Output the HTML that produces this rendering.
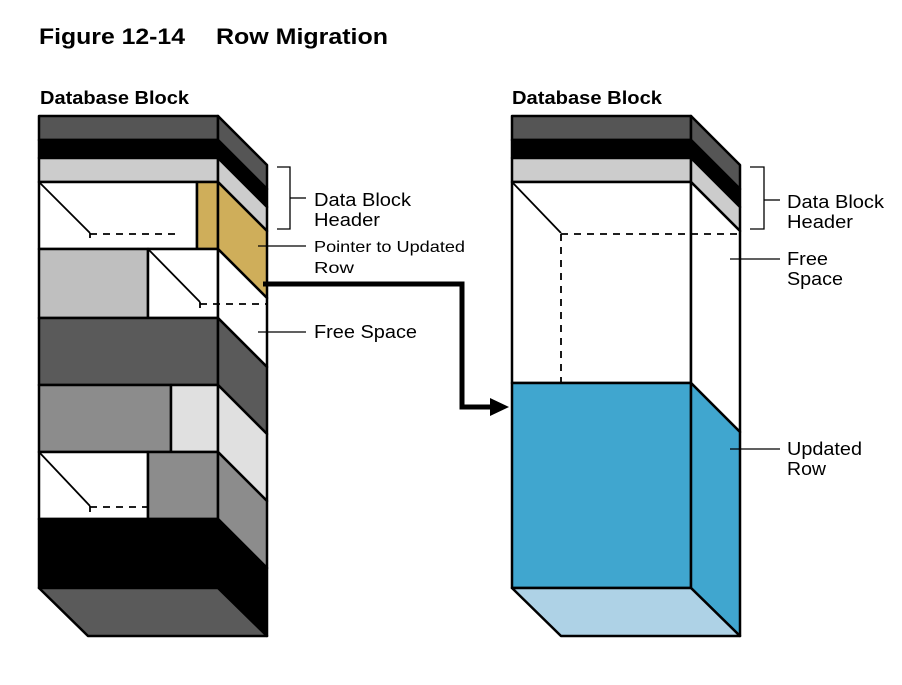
<!DOCTYPE html>
<html><head><meta charset="utf-8"><style>
html,body{margin:0;padding:0;background:#fff;}
svg{display:block;font-family:"Liberation Sans",Arial,sans-serif;}
</style></head><body>
<svg width="902" height="685" viewBox="0 0 902 685" xmlns="http://www.w3.org/2000/svg">
<text x="39" y="44" font-size="22" font-weight="bold" textLength="146" lengthAdjust="spacingAndGlyphs">Figure 12-14</text>
<text x="216" y="44" font-size="22" font-weight="bold" textLength="172" lengthAdjust="spacingAndGlyphs">Row Migration</text>
<text x="40" y="104" font-size="18" font-weight="bold" textLength="149" lengthAdjust="spacingAndGlyphs">Database Block</text>
<text x="512" y="104" font-size="18" font-weight="bold" textLength="150" lengthAdjust="spacingAndGlyphs">Database Block</text>

<g stroke="#000" stroke-width="2.5" stroke-linejoin="round">
<rect x="39" y="116" width="179" height="24" fill="#555"/>
<rect x="39" y="140" width="179" height="18" fill="#000"/>
<rect x="39" y="158" width="179" height="24" fill="#ccc"/>
<rect x="39" y="182" width="158" height="67" fill="#fff"/>
<rect x="197" y="182" width="21" height="67" fill="#cfae5a"/>
<rect x="39" y="249" width="109" height="69" fill="#bfbfbf"/>
<rect x="148" y="249" width="70" height="69" fill="#fff"/>
<rect x="39" y="318" width="179" height="67" fill="#5a5a5a"/>
<rect x="39" y="385" width="132" height="67" fill="#8c8c8c"/>
<rect x="171" y="385" width="47" height="67" fill="#e0e0e0"/>
<rect x="39" y="452" width="109" height="67" fill="#fff"/>
<rect x="148" y="452" width="70" height="67" fill="#8c8c8c"/>
<rect x="39" y="519" width="179" height="69" fill="#000"/>
<polygon points="218,116 267,165 267,189 218,140" fill="#555"/>
<polygon points="218,140 267,189 267,207 218,158" fill="#000"/>
<polygon points="218,158 267,207 267,231 218,182" fill="#ccc"/>
<polygon points="218,182 267,231 267,298 218,249" fill="#cfae5a"/>
<polygon points="218,249 267,298 267,367 218,318" fill="#fff"/>
<polygon points="218,318 267,367 267,434 218,385" fill="#5a5a5a"/>
<polygon points="218,385 267,434 267,501 218,452" fill="#e0e0e0"/>
<polygon points="218,452 267,501 267,568 218,519" fill="#8c8c8c"/>
<polygon points="218,519 267,568 267,636 218,588" fill="#000"/>
<polygon points="39,588 218,588 267,636 88,636" fill="#5a5a5a"/>

<rect x="512" y="116" width="179" height="24" fill="#555"/>
<rect x="512" y="140" width="179" height="18" fill="#000"/>
<rect x="512" y="158" width="179" height="24" fill="#ccc"/>
<rect x="512" y="182" width="179" height="201" fill="#fff"/>
<rect x="512" y="383" width="179" height="205" fill="#40a6cf"/>
<polygon points="691,116 740,165 740,189 691,140" fill="#555"/>
<polygon points="691,140 740,189 740,207 691,158" fill="#000"/>
<polygon points="691,158 740,207 740,231 691,182" fill="#ccc"/>
<polygon points="691,182 740,231 740,432 691,383" fill="#fff"/>
<polygon points="691,383 740,432 740,636 691,588" fill="#40a6cf"/>
<polygon points="512,588 691,588 740,636 561,636" fill="#aed2e6"/>
</g>

<g stroke="#000" stroke-width="1.8" fill="none">
<line x1="39" y1="182" x2="90" y2="233"/>
<line x1="90" y1="233" x2="90" y2="238"/>
<line x1="90" y1="234" x2="180" y2="234" stroke-dasharray="7,6"/>
<line x1="148" y1="249" x2="200" y2="302"/>
<line x1="200" y1="302" x2="200" y2="308"/>
<line x1="200" y1="304" x2="267" y2="304" stroke-dasharray="7,6"/>
<line x1="39" y1="452" x2="90" y2="506"/>
<line x1="90" y1="506" x2="90" y2="512"/>
<line x1="90" y1="507" x2="148" y2="507" stroke-dasharray="7,6"/>
<line x1="512" y1="182" x2="561" y2="233"/>
<line x1="561" y1="234" x2="740" y2="234" stroke-dasharray="7,6"/>
<line x1="561" y1="234" x2="561" y2="383" stroke-dasharray="7,6"/>
</g>

<polyline points="263,284 462,284 462,407 492,407" fill="none" stroke="#000" stroke-width="5"/>
<polygon points="490,398 509,407 490,416" fill="#000"/>

<g stroke="#000" stroke-width="1.3" fill="none">
<polyline points="277,167 290,167 290,229 277,229"/>
<line x1="290" y1="198" x2="306" y2="198"/>
<line x1="258" y1="246" x2="306" y2="246"/>
<line x1="258" y1="332" x2="306" y2="332"/>
<polyline points="750,167 764,167 764,229 750,229"/>
<line x1="764" y1="200" x2="780" y2="200"/>
<line x1="730" y1="259" x2="780" y2="259"/>
<line x1="730" y1="449" x2="780" y2="449"/>
</g>
<g font-size="18" fill="#000" lengthAdjust="spacingAndGlyphs">
<text x="314" y="206" textLength="97" lengthAdjust="spacingAndGlyphs">Data Block</text>
<text x="314" y="226" textLength="66" lengthAdjust="spacingAndGlyphs">Header</text>
<text x="314" y="252" font-size="16" textLength="151" lengthAdjust="spacingAndGlyphs">Pointer to Updated</text>
<text x="314" y="273" font-size="16" textLength="40" lengthAdjust="spacingAndGlyphs">Row</text>
<text x="314" y="338" textLength="103" lengthAdjust="spacingAndGlyphs">Free Space</text>
<text x="787" y="208" textLength="97" lengthAdjust="spacingAndGlyphs">Data Block</text>
<text x="787" y="228" textLength="66" lengthAdjust="spacingAndGlyphs">Header</text>
<text x="787" y="265" textLength="41" lengthAdjust="spacingAndGlyphs">Free</text>
<text x="787" y="285" textLength="56" lengthAdjust="spacingAndGlyphs">Space</text>
<text x="787" y="455" textLength="75" lengthAdjust="spacingAndGlyphs">Updated</text>
<text x="787" y="475" textLength="39" lengthAdjust="spacingAndGlyphs">Row</text>
</g>
</svg>
</body></html>
